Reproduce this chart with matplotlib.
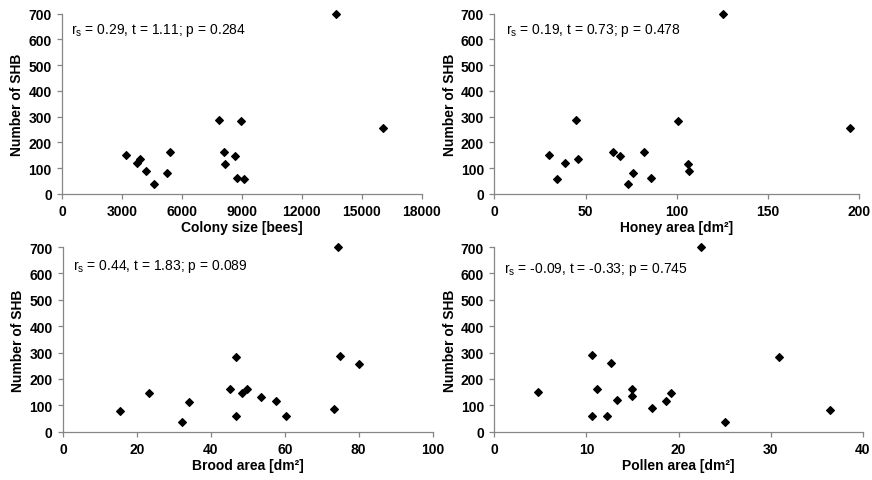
import matplotlib
matplotlib.use("Agg")
import matplotlib.pyplot as plt

plt.rcParams['font.family'] = ['Liberation Sans', 'DejaVu Sans']
plt.rcParams['mathtext.fontset'] = 'custom'
plt.rcParams['mathtext.rm'] = 'Liberation Sans'
plt.rcParams['mathtext.it'] = 'Liberation Sans'

# number of small hive beetles per colony (same order in every panel)
shb = [151, 120, 137, 88, 37, 80, 162, 289, 162, 116, 148, 62, 285, 58, 700, 256]

colony_size = [3190, 3757, 3891, 4177, 4608, 5244, 5394, 7863, 8098, 8163, 8650, 8734, 8935, 9085, 13708, 16077]

honey_x = [30.1, 34.1, 38.5, 44.9, 45.8, 65.0, 69.0, 73.1, 76.2, 81.8, 86.0, 100.6, 106.1, 106.7, 125.5, 195.1]
honey_y = [150, 60, 120, 288, 137, 162, 148, 37, 80, 162, 62, 285, 116, 88, 700, 256]

brood_x = [15.5, 23.3, 32.1, 34.1, 45.3, 46.9, 46.9, 48.5, 49.7, 53.6, 57.5, 60.3, 73.2, 74.3, 74.8, 80.2]
brood_y = [77, 147, 35, 114, 160, 283, 58, 147, 160, 133, 116, 61, 85, 700, 286, 255]

pollen_x = [4.7, 10.6, 10.6, 11.1, 12.2, 12.7, 13.3, 14.9, 14.9, 17.1, 18.6, 19.2, 22.4, 25.0, 30.9, 36.4]
pollen_y = [150, 289, 61, 160, 58, 259, 119, 163, 135, 88, 116, 147, 700, 35, 283, 81]

panels = [
    (colony_size, shb, "Colony size [bees]", [0, 3000, 6000, 9000, 12000, 15000, 18000],
     "r$_{\\mathrm{s}}$ = 0.29, t = 1.11; p = 0.284", [0.0714, 0.5946, 0.4122, 0.3748], (0.024, 0.91)),
    (honey_x, honey_y, "Honey area [dm²]", [0, 50, 100, 150, 200],
     "r$_{\\mathrm{s}}$ = 0.19, t = 0.73; p = 0.478", [0.5669, 0.5946, 0.4186, 0.3748], (0.032, 0.91)),
    (brood_x, brood_y, "Brood area [dm²]", [0, 20, 40, 60, 80, 100],
     "r$_{\\mathrm{s}}$ = 0.44, t = 1.83; p = 0.089", [0.0722, 0.1004, 0.424, 0.384], (0.026, 0.899)),
    (pollen_x, pollen_y, "Pollen area [dm²]", [0, 10, 20, 30, 40],
     "r$_{\\mathrm{s}}$ = -0.09, t = -0.33; p = 0.745", [0.5669, 0.1004, 0.4225, 0.384], (0.027, 0.886)),
]

fig = plt.figure(figsize=(8.72, 4.81), dpi=100)

for x, y, xlabel, xticks, note, rect, pos in panels:
    ax = fig.add_axes(rect)
    ax.scatter(x, y, marker='D', s=15, color='black', clip_on=False, zorder=3)
    ax.set_xlim(xticks[0], xticks[-1])
    ax.set_ylim(0, 700)
    ax.set_xticks(xticks)
    ax.set_yticks(range(0, 701, 100))
    for side in ['top', 'right']:
        ax.spines[side].set_visible(False)
    for side in ['left', 'bottom']:
        ax.spines[side].set_color('#868686')
        ax.spines[side].set_linewidth(0.9)
    ax.tick_params(direction='out', length=3.5, width=0.9, color='#868686',
                   labelsize=10, pad=4)
    for lab in ax.get_xticklabels() + ax.get_yticklabels():
        lab.set_fontweight('bold')
    ax.set_xlabel(xlabel, fontsize=10, fontweight='bold', labelpad=1)
    ax.set_ylabel("Number of SHB", fontsize=10, fontweight='bold', labelpad=3)
    ax.text(pos[0], pos[1], note, transform=ax.transAxes, fontsize=10, va='center', ha='left')

fig.savefig("out.png", dpi=100)
